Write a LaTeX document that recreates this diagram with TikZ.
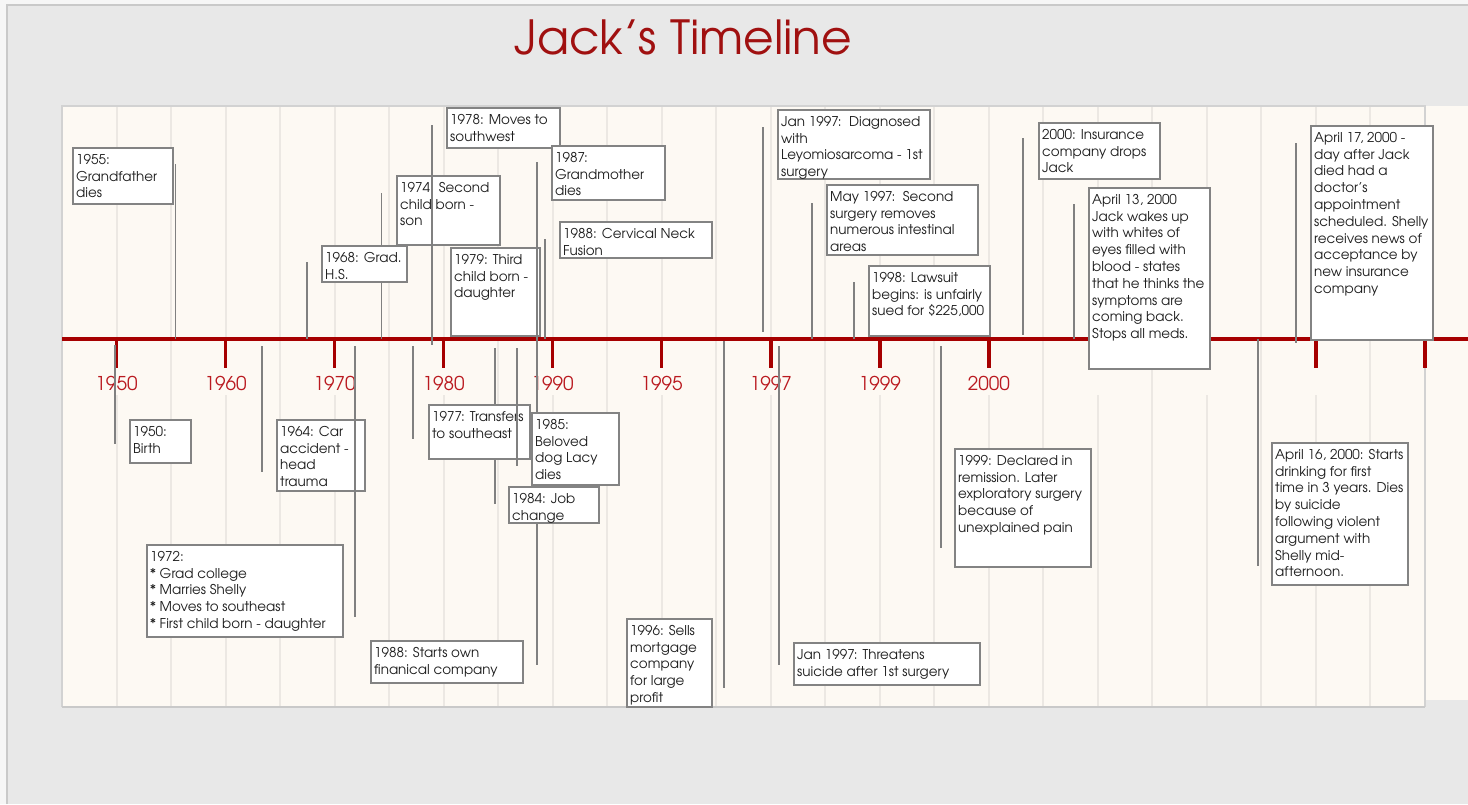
\documentclass[tikz,border=0pt]{standalone}
\usepackage{fontspec}
\setmainfont{TeX Gyre Adventor}
\definecolor{pagewhite}{HTML}{F6F6F6}
\definecolor{bggray}{HTML}{E8E8E8}
\definecolor{framegray}{HTML}{C9C9C9}
\definecolor{cream}{HTML}{FDF9F3}
\definecolor{panelline}{HTML}{D2D2D2}
\definecolor{gridgray}{HTML}{ECE8E3}
\definecolor{axisred}{HTML}{A60000}
\definecolor{titlered}{HTML}{A01010}
\definecolor{yearred}{HTML}{BA1A20}
\definecolor{linegray}{HTML}{808080}
\definecolor{boxgray}{HTML}{838383}
\definecolor{inkgray}{HTML}{1E1E1E}

% straight apostrophe
\newcommand\apos{{\char"27\relax}}
% event box: name, x1, y1, x2, y2, text
\newcommand\evbox[6]{%
  \node[evbox, minimum width={#4-#2}, minimum height={#5-#3}] (#1) at (#2,#3) {};
  \node[evtext] (#1txt) at (#2+4,#3+7) {#6};}
% vertical connector: name, x, y-from, y-to
\newcommand\conn[4]{%
  \coordinate (#1a) at (#2,#3);
  \coordinate (#1b) at (#2,#4);
  \draw[conn] (#1a) -- (#1b);}

\begin{document}
\begin{tikzpicture}[x=1pt,y=-1pt,
  gridline/.style={gridgray, line width=2pt},
  axisline/.style={axisred, line width=3.5pt},
  tickline/.style={axisred, line width=3.5pt},
  yearlabel/.style={text=yearred, font=\fontsize{19}{22}\selectfont, inner sep=0pt},
  conn/.style={linegray, line width=1.8pt},
  evbox/.style={draw=boxgray, fill=white, line width=1.5pt, inner sep=0pt, anchor=north west},
  evtext/.style={anchor=north west, align=left, inner sep=0pt, text=inkgray,
                 font=\fontsize{13.5}{16.8}\selectfont}]

\useasboundingbox (0,0) rectangle (1468,804);

% page and gray slide area
\fill[pagewhite] (0,0) rectangle (1468,804);
\fill[bggray] (7,5) rectangle (1468,804);
\draw[framegray, line width=1.5pt] (7,804) -- (7,5) -- (1468,5);

% title
\node[text=titlered, font=\fontsize{47}{54}\selectfont, inner sep=0pt] (title) at (683.5,37) {Jack\apos s Timeline};

% cream panel
\fill[cream] (1425,106) rectangle (1468,700);
\fill[cream] (62,106) rectangle (1425,707);

% background grid
\foreach \k in {1,...,24}{
  \pgfmathsetmacro\gx{62+54.52*\k}
  \ifodd\k
    \draw[gridline] (\gx,107) -- (\gx,339);
    \draw[gridline] (\gx,395) -- (\gx,706);
  \else
    \draw[gridline] (\gx,107) -- (\gx,706);
  \fi
}
\draw[panelline, line width=1.5pt] (62,707) -- (62,106) -- (1425,106) -- (1425,707);
\draw[framegray, line width=2.5pt] (62,707) -- (1425,707);

% axis and ticks
\coordinate (axisL) at (62,339);
\coordinate (axisR) at (1468,339);
\draw[axisline] (axisL) -- (axisR);
\foreach \k in {1,3,...,25}{
  \pgfmathsetmacro\gx{62+54.52*\k}
  \draw[tickline] (\gx,339) -- (\gx,368);
}

% year labels
\node[yearlabel] (y1950) at (116.5,383) {1950};
\node[yearlabel] (y1960) at (225.6,383) {1960};
\node[yearlabel] (y1970) at (334.6,383) {1970};
\node[yearlabel] (y1980) at (443.6,383) {1980};
\node[yearlabel] (y1990) at (552.7,383) {1990};
\node[yearlabel] (y1995) at (661.7,383) {1995};
\node[yearlabel] (y1997) at (770.8,383) {1997};
\node[yearlabel] (y1999) at (879.8,383) {1999};
\node[yearlabel] (y2000) at (988.8,383) {2000};

% ---- events above the axis ----
\conn{c1955}{175.5}{164}{339}
\evbox{e1955}{72}{147}{172}{203}{1955:\\Grandfather\\dies}

\conn{c1968}{307}{262}{339}
\conn{c1974}{381.5}{193}{339}
\evbox{e1968}{321}{245}{406}{281}{1968: Grad.\\H.S.}
\evbox{e1974}{396}{175}{499}{244}{1974: Second\\child born -\\son}
\conn{c1978}{432}{125}{345}
\evbox{e1978}{446}{107}{559}{147}{1978: Moves to\\southwest}
\evbox{e1987}{551}{145}{664}{199}{1987:\\Grandmother\\dies}
\evbox{e1979}{450}{247}{539}{335}{1979: Third\\child born -\\daughter}
\conn{c1987}{537}{162}{665}
\conn{c1988n}{545}{239}{339}
\evbox{e1988n}{559}{221}{711}{257}{1988: Cervical Neck\\Fusion}

\conn{c1997d}{763}{127}{332}
\node[evbox, minimum width=152, minimum height=69] (e1997d) at (777,109) {};
\begin{scope}
  \clip (777,109) rectangle (929,178);
  \node[evtext] (e1997dtxt) at (781,116) {Jan 1997:\ \ Diagnosed\\with\\Leyomiosarcoma - 1st\\surgery};
\end{scope}
\draw[boxgray, line width=1.5pt] (e1997d.south west) -- (e1997d.south east);

\conn{c1997m}{812}{203}{339}
\evbox{e1997m}{826}{184}{977}{254}{May 1997:\ \ Second\\surgery removes\\numerous intestinal\\areas}
\conn{c1998}{854}{282}{339}
\evbox{e1998}{868}{265}{989}{335}{1998: Lawsuit\\begins: is unfairly\\sued for \$225,000}
\conn{c2000i}{1023}{138}{335}
\evbox{e2000i}{1038}{122}{1159}{178}{2000: Insurance\\company drops\\Jack}
\conn{c2000w}{1074}{204}{339}
\evbox{e2000w}{1088}{187}{1209}{368}{April 13, 2000\\Jack wakes up\\with whites of\\eyes filled with\\blood - states\\that he thinks the\\symptoms are\\coming back.\\Stops all meds.}
\conn{c2000a}{1296}{143}{343}
\evbox{e2000a}{1310}{125}{1432}{339}{April 17, 2000 -\\day after Jack\\died had a\\doctor\apos s\\appointment\\scheduled. Shelly\\receives news of\\acceptance by\\new insurance\\company}

% ---- events below the axis ----
\conn{c1950}{115}{345}{444}
\evbox{e1950}{129}{419}{190}{462}{1950:\\Birth}
\conn{c1964}{262}{346}{472}
\evbox{e1964}{276}{419}{364}{490}{1964: Car\\accident -\\head\\trauma}
\conn{c1972}{355}{346}{617}
\evbox{e1972}{146}{544}{342}{636}{1972:\\* Grad college\\* Marries Shelly\\* Moves to southeast\\* First child born - daughter}
\conn{c1977}{413}{346}{439}
\conn{c1984}{495}{348}{504}
\evbox{e1977}{428}{404}{529}{458}{1977: Transfers\\to southeast}
\conn{c1985}{517}{348}{466}
\evbox{e1985}{531}{412}{618}{484}{1985:\\Beloved\\dog Lacy\\dies}
\evbox{e1984}{508}{486}{598}{522}{1984: Job\\change}
\evbox{e1988s}{370}{640}{522}{682}{1988: Starts own\\finanical company}
\conn{c1996}{724}{341}{688}
\evbox{e1996}{626}{618}{711}{706}{1996: Sells\\mortgage\\company\\for large\\profit}
\conn{c1997s}{779}{346}{665}
\evbox{e1997s}{793}{642}{979}{684}{Jan 1997: Threatens\\suicide after 1st surgery}
\conn{c1999}{941}{346}{548}
\evbox{e1999}{954}{448}{1090}{566}{1999: Declared in\\remission. Later\\exploratory surgery\\because of\\unexplained pain}
\conn{c2000d}{1258}{339}{566}
\evbox{e2000d}{1271}{442}{1407}{584}{April 16, 2000: Starts\\drinking for first\\time in 3 years. Dies\\by suicide\\following violent\\argument with\\Shelly mid-\\afternoon.}

\end{tikzpicture}
\end{document}
